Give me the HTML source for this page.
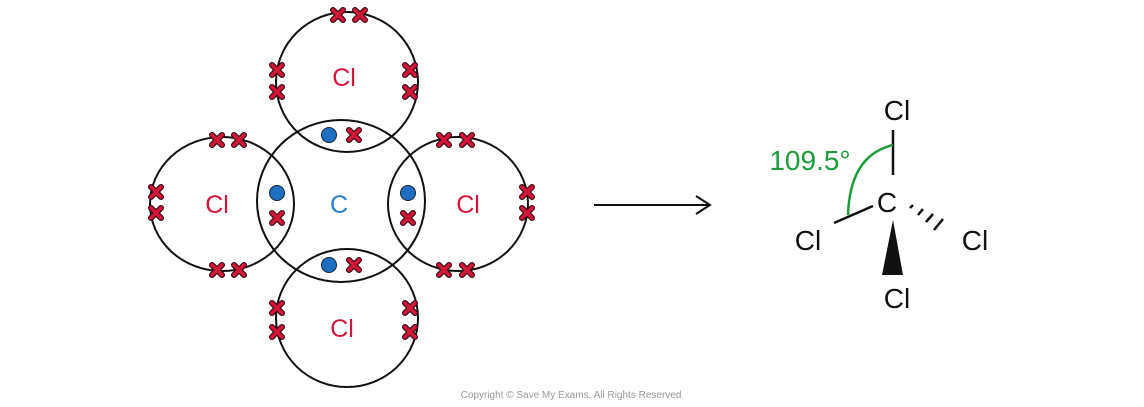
<!DOCTYPE html>
<html><head><style>body{margin:0;background:#fff}svg{display:block}</style></head><body>
<svg width="1144" height="407" viewBox="0 0 1144 407" xmlns="http://www.w3.org/2000/svg">
<defs>
<g id="x"><path d="M-5,-5L5,5M5,-5L-5,5" stroke="#3a0a12" stroke-width="6" stroke-linecap="round"/><path d="M-5,-5L5,5M5,-5L-5,5" stroke="#d2163a" stroke-width="3.6" stroke-linecap="round"/></g>
<g id="d"><circle r="7.5" fill="#1f6fc0" stroke="#123" stroke-width="1"/></g>
</defs>
<g fill="none" stroke="#111" stroke-width="2">
<ellipse cx="341" cy="201" rx="84" ry="81"/>
<ellipse cx="347" cy="82" rx="71" ry="70"/>
<ellipse cx="222" cy="204" rx="72" ry="67"/>
<ellipse cx="458" cy="204" rx="70" ry="67"/>
<ellipse cx="347" cy="318" rx="71" ry="69"/>
</g>
<g>
<use href="#x" x="338" y="15"/><use href="#x" x="360" y="15"/>
<use href="#x" x="277" y="70"/><use href="#x" x="277" y="92"/>
<use href="#x" x="410" y="70"/><use href="#x" x="410" y="92"/>
<use href="#d" x="329" y="135"/><use href="#x" x="354" y="135"/>
<use href="#x" x="217" y="140"/><use href="#x" x="239" y="140"/>
<use href="#x" x="156" y="192"/><use href="#x" x="156" y="213"/>
<use href="#x" x="217" y="270"/><use href="#x" x="239" y="270"/>
<use href="#d" x="277" y="193"/><use href="#x" x="277" y="218"/>
<use href="#x" x="444" y="140"/><use href="#x" x="467" y="140"/>
<use href="#x" x="527" y="192"/><use href="#x" x="527" y="213"/>
<use href="#x" x="444" y="270"/><use href="#x" x="467" y="270"/>
<use href="#d" x="408" y="193"/><use href="#x" x="408" y="218"/>
<use href="#d" x="329" y="265"/><use href="#x" x="354" y="265"/>
<use href="#x" x="277" y="308"/><use href="#x" x="277" y="332"/>
<use href="#x" x="410" y="308"/><use href="#x" x="410" y="332"/>
</g>
<g font-family="Liberation Sans, sans-serif" font-size="25" text-anchor="middle" fill="#d2163a">
<text x="344" y="86">Cl</text>
<text x="217" y="213">Cl</text>
<text x="468" y="213">Cl</text>
<text x="342" y="337">Cl</text>
<text x="339" y="213" fill="#2a7fd0">C</text>
</g>
<path d="M594,205H708M696,196L710,205L696,214" fill="none" stroke="#111" stroke-width="2"/>
<g stroke="#111" stroke-width="2.5" fill="none">
<path d="M893,130V175"/>
<path d="M873,206L834,223"/>
<path d="M910,208l3,-3M918,215l5,-6M926,222l7,-8M934,230l9,-11" />
</g>
<path d="M893,220L882,275L903,275Z" fill="#111"/>
<path d="M893,145Q850,155 848,215" fill="none" stroke="#1f9a3c" stroke-width="2.5"/>
<g font-family="Liberation Sans, sans-serif" font-size="28" text-anchor="middle" fill="#111">
<text x="897" y="120">Cl</text>
<text x="887" y="212">C</text>
<text x="808" y="250">Cl</text>
<text x="975" y="250">Cl</text>
<text x="897" y="308">Cl</text>
<text x="810" y="170" fill="#1f9a3c">109.5°</text>
</g>
<text x="571" y="398" font-family="Liberation Sans, sans-serif" font-size="10" fill="#999" text-anchor="middle">Copyright © Save My Exams. All Rights Reserved</text>
</svg>
</body></html>
